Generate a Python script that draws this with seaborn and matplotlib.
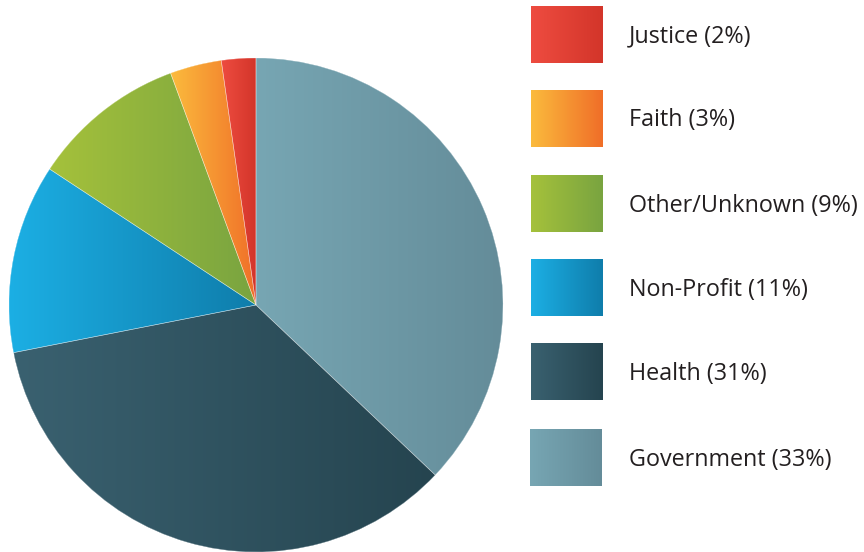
import numpy as np
import matplotlib
matplotlib.use("Agg")
import matplotlib.pyplot as plt
import seaborn as sns
from matplotlib.colors import LinearSegmentedColormap
from matplotlib.patches import Wedge

sns.set_theme(style="white")
plt.rcParams["font.family"] = ["Open Sans", "DejaVu Sans"]

# Sectors in drawing order (clockwise from 12 o'clock)
categories = ["Government", "Health", "Non-Profit", "Other/Unknown", "Faith", "Justice"]
shares = [33, 31, 11, 9, 3, 2]
# Horizontal gradient (left colour, right colour) for each sector
grad_left = ["#77a6b3", "#3a6170", "#1cafe4", "#a5c13b", "#fbbb3d", "#ee4c40"]
grad_right = ["#648c99", "#25444f", "#0f7dab", "#79a440", "#f06e28", "#d3352a"]
# Legend order (top to bottom)
legend_order = ["Justice", "Faith", "Other/Unknown", "Non-Profit", "Health", "Government"]

W, H = 864, 552
fig = plt.figure(figsize=(W / 100, H / 100), dpi=100)
ax = fig.add_axes([0, 0, 1, 1])

# Pie in pixel-like data coordinates
cx, cy, r = 256, 247, 247
wedges, _ = ax.pie(shares, startangle=90, counterclock=False,
                   center=(cx, cy), radius=r, frame=True,
                   wedgeprops=dict(linewidth=0))
ax.set_xlim(0, W)
ax.set_ylim(0, H)
ax.set_aspect("auto")
ax.axis("off")

grad = np.linspace(0, 1, 256).reshape(1, -1)


def gradient_fill(extent, c0, c1, clip=None, z=2):
    cmap = LinearSegmentedColormap.from_list("g", [c0, c1])
    im = ax.imshow(grad, cmap=cmap, extent=extent, aspect="auto",
                   interpolation="bilinear", zorder=z, origin="lower")
    if clip is not None:
        im.set_clip_path(clip)
    return im


for w, c0, c1 in zip(wedges, grad_left, grad_right):
    w.set_facecolor(c0)
    w.set_zorder(1)
    bb = w.get_path().get_extents()
    gradient_fill([bb.x0, bb.x1, bb.y0, bb.y1], c0, c1, clip=w, z=2)
    # thin separator on top
    ax.add_patch(Wedge((cx, cy), r, w.theta1, w.theta2, facecolor="none",
                       edgecolor="white", linewidth=0.4, alpha=0.5, zorder=3))

# Legend: gradient swatches with labels
box_top = [6, 90, 175, 259, 343, 429]
box_x = [531, 531, 531, 531, 531, 530]
box_w, box_h = 72, 57
for name, top, bx in zip(legend_order, box_top, box_x):
    i = categories.index(name)
    y0 = H - top - box_h
    gradient_fill([bx, bx + box_w, y0, y0 + box_h], grad_left[i], grad_right[i], z=2)
    ax.text(629, y0 + box_h / 2 - 2, f"{name} ({shares[i]}%)", ha="left", va="center",
            fontsize=16.8, color="#231f20")

ax.set_xlim(0, W)
ax.set_ylim(0, H)
fig.savefig("out.png", dpi=100, facecolor="white")
